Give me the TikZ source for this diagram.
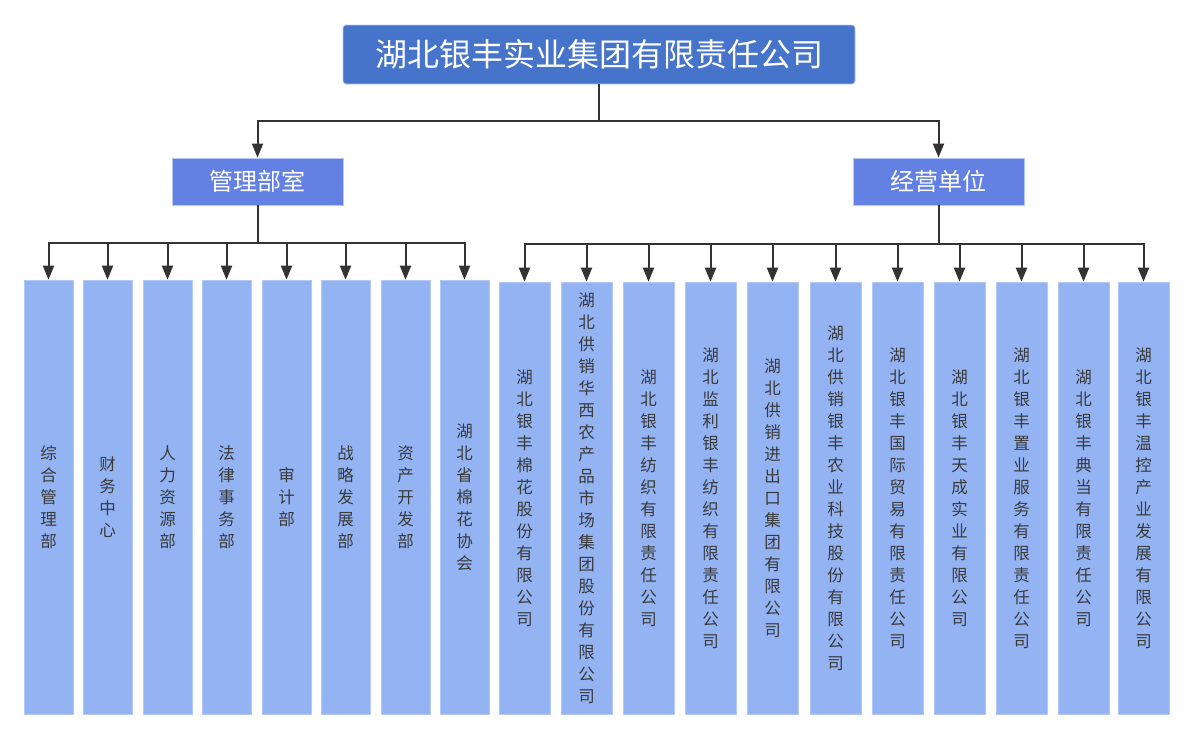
\documentclass[tikz,border=0pt]{standalone}
\usepackage{fontspec}
\setmainfont{Noto Sans CJK SC}
\usetikzlibrary{arrows.meta}
\definecolor{topblue}{HTML}{4674CA}
\definecolor{midblue}{HTML}{6381E3}
\definecolor{leafblue}{HTML}{93B3F3}
\definecolor{edgeblue}{HTML}{B4C8F8}
\definecolor{linegray}{HTML}{333333}
\definecolor{txtgray}{HTML}{3A3A3A}
\newcommand\vstack[1]{\vstackA#1\vstackEnd}
\def\vstackA#1{#1\vstackB}
\def\vstackB#1{\ifx#1\vstackEnd\else\\#1\expandafter\vstackB\fi}
\def\vstackEnd{}
\newcommand\vst[1]{\expandafter\vstack\expandafter{#1}}
\tikzset{
  topbox/.style={fill=topblue, draw=edgeblue, line width=0.8pt, rounded corners=3pt, minimum width=512pt, minimum height=59pt, inner sep=0pt, text=white, font=\fontsize{32}{36}\selectfont},
  midbox/.style={fill=midblue, draw=edgeblue, line width=0.8pt, minimum width=171pt, minimum height=47pt, inner sep=0pt, text=white, font=\fontsize{24}{28}\selectfont},
  leafL/.style={fill=leafblue, draw=edgeblue, line width=0.6pt, minimum width=49pt, minimum height=434pt, inner sep=0pt, text=txtgray, align=center, font=\fontsize{16.5}{22}\selectfont},
  leafR/.style={leafL, minimum width=51pt, minimum height=432pt},
  arr/.style={draw=linegray, line width=2pt, -{Triangle[width=11pt,length=14pt]}},
}
\begin{document}
\begin{tikzpicture}[x=1pt,y=-1pt]
\useasboundingbox (0,0) rectangle (1192,739);
\node[topbox] (top) at (599,54.5) {湖北银丰实业集团有限责任公司};
\node[midbox] (mgmt) at (257.5,181.5) {管理部室};
\node[midbox] (oper) at (938.5,181.5) {经营单位};
\coordinate (tbus) at (599,121);
\coordinate (lbus) at (258,242.5);
\coordinate (rbus) at (939,243.5);
\draw[arr] (top.south) -- (tbus) -| (mgmt.north);
\draw[arr] (top.south) -- (tbus) -| (oper.north);
% left leaves
\foreach \i/\x/\t in {1/48.5/综合管理部, 2/107.5/财务中心, 3/167.5/人力资源部, 4/226.5/法律事务部, 5/286.5/审计部, 6/345.5/战略发展部, 7/405.5/资产开发部, 8/464.5/湖北省棉花协会}{
  \node[leafL] (L\i) at (\x,497) {\vst{\t}};
  \draw[arr] (mgmt.south) -- (mgmt.south |- lbus) -| (L\i.north);
}
% right leaves
\foreach \i/\x/\t in {1/524.5/湖北银丰棉花股份有限公司, 2/586.5/湖北供销华西农产品市场集团股份有限公司, 3/648.5/湖北银丰纺织有限责任公司, 4/710.5/湖北监利银丰纺织有限责任公司, 5/772.5/湖北供销进出口集团有限公司, 6/835.5/湖北供销银丰农业科技股份有限公司, 7/897.5/湖北银丰国际贸易有限责任公司, 8/959.5/湖北银丰天成实业有限公司, 9/1021.5/湖北银丰置业服务有限责任公司, 10/1083.5/湖北银丰典当有限责任公司, 11/1143.5/湖北银丰温控产业发展有限公司}{
  \node[leafR] (R\i) at (\x,498) {\vst{\t}};
  \draw[arr] (oper.south) -- (oper.south |- rbus) -| (R\i.north);
}
\end{tikzpicture}
\end{document}
